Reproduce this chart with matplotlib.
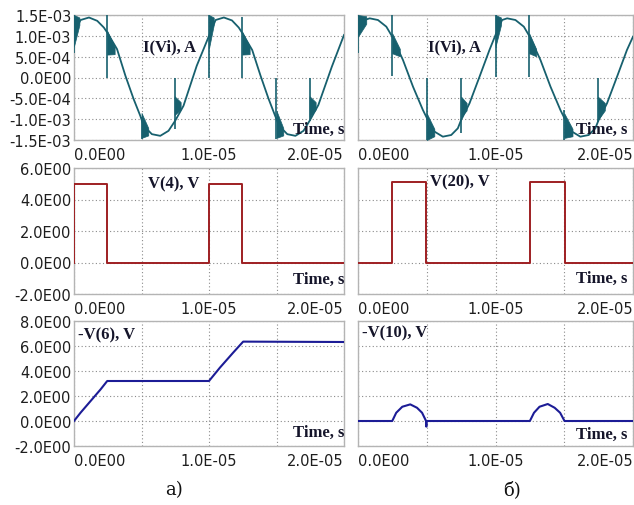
import numpy as np
import matplotlib
matplotlib.use('Agg')
from matplotlib import pyplot as plt

# time in microseconds, current in mA, voltage in V
# --- a) left column ---
t_i_left = [0.0, 0.49, 1.11, 1.72, 2.21, 2.46, 3.19, 3.81, 4.42, 4.91, 5.16, 5.77, 6.39, 7.0, 7.49,
            8.11, 9.09, 10.0, 10.49, 11.1, 11.7, 12.2, 12.46, 13.2, 13.8, 14.4, 14.9, 15.2, 15.8,
            16.4, 17.0, 17.45, 18.1, 19.1, 20.0]
i_left = [1.08, 1.38, 1.44, 1.36, 1.20, 1.08, 0.68, 0.04, -0.52, -0.92, -1.16, -1.36, -1.40, -1.28,
          -1.04, -0.68, 0.28, 1.00, 1.38, 1.44, 1.37, 1.20, 1.07, 0.66, 0.06, -0.50, -0.92, -1.16,
          -1.36, -1.40, -1.28, -1.04, -0.66, 0.26, 1.02]
# switching transients: time, spike range, burst start range, burst length, burst end value
ev_t_left = [0.0, 2.46, 5.0, 7.45, 10.0, 12.46, 15.0, 17.45]
spk_lo_left = [0.60, 0.00, -1.48, -1.24, 0.00, 0.00, -1.48, -1.05]
spk_hi_left = [1.50, 1.50, -0.95, 0.00, 1.50, 1.45, 0.00, 0.00]
bst_lo_left = [0.75, 0.55, -1.45, -0.90, 0.70, 0.55, -1.45, -0.95]
bst_hi_left = [1.50, 1.12, -0.85, -0.45, 1.50, 1.10, -0.80, -0.45]
bst_len_left = [0.40, 0.55, 0.50, 0.45, 0.35, 0.55, 0.50, 0.45]
bst_end_left = [1.35, 0.65, -1.30, -0.68, 1.35, 0.65, -1.30, -0.68]

t_v4 = [0.0, 0.0, 2.46, 10.0, 12.46, 20.0]
v4 = [0.0, 5.0, 0.0, 5.0, 0.0, 0.0]

t_v6 = [0.0, 0.49, 1.23, 1.97, 2.46, 10.0, 10.81, 11.79, 12.53, 20.0]
v6 = [0.0, 0.67, 1.60, 2.53, 3.20, 3.20, 4.27, 5.47, 6.35, 6.32]

# --- б) right column ---
t_i_right = [0.0, 0.48, 0.85, 1.45, 2.06, 2.49, 3.27, 4.0, 4.72, 5.08, 5.57, 6.17, 6.78, 7.26, 7.5,
             8.11, 8.84, 9.56, 10.0, 10.48, 10.85, 11.45, 12.06, 12.49, 13.27, 14.0, 14.72, 15.08,
             15.57, 16.17, 16.78, 17.26, 17.5, 18.11, 18.84, 19.56, 20.0]
i_right = [1.02, 1.38, 1.42, 1.38, 1.22, 0.98, 0.42, -0.22, -0.78, -1.02, -1.30, -1.42, -1.38, -1.22,
           -1.02, -0.62, 0.02, 0.66, 1.02, 1.38, 1.42, 1.38, 1.22, 0.98, 0.42, -0.22, -0.78, -1.02,
           -1.30, -1.42, -1.38, -1.22, -1.02, -0.62, 0.02, 0.66, 0.98]
ev_t_right = [0.0, 2.49, 5.0, 7.5, 10.0, 12.45, 15.0, 17.45]
spk_lo_right = [0.58, 0.04, -1.50, -1.34, 0.02, 0.02, -1.50, -1.06]
spk_hi_right = [1.50, 1.50, 0.00, 0.00, 1.50, 1.50, -0.78, 0.00]
bst_lo_right = [0.98, 0.58, -1.50, -0.94, 0.74, 0.58, -1.45, -1.02]
bst_hi_right = [1.50, 1.06, -0.86, -0.46, 1.50, 1.06, -0.86, -0.46]
bst_len_right = [0.60, 0.55, 0.55, 0.40, 0.40, 0.50, 0.60, 0.50]
bst_end_right = [1.38, 0.60, -1.32, -0.70, 1.35, 0.60, -1.32, -0.70]

t_v20 = [0.0, 2.5, 4.98, 12.49, 15.05, 20.0]
v20 = [0.0, 5.1, 0.0, 5.1, 0.0, 0.0]

t_v10 = [0.0, 2.49, 2.78, 3.22, 3.80, 4.29, 4.66, 4.95, 4.97, 4.99, 12.5, 12.8, 13.2, 13.8, 14.3,
         14.7, 15.02, 20.0]
v10 = [0.0, 0.0, 0.66, 1.14, 1.33, 1.06, 0.66, 0.0, -0.45, 0.0, 0.0, 0.66, 1.14, 1.36, 1.06,
       0.66, 0.0, 0.0]

x_ticks = [0, 0.5e-5, 1e-5, 1.5e-5, 2e-5]
x_labels = ['0.0E00', '', '1.0E-05', '', '2.0E-05']
yt_i = [-1.5e-3, -1e-3, -5e-4, 0, 5e-4, 1e-3, 1.5e-3]
yl_i = ['-1.5E-03', '-1.0E-03', '-5.0E-04', '0.0E00', '5.0E-04', '1.0E-03', '1.5E-03']
yt_v4 = [-2, 0, 2, 4, 6]
yl_v4 = ['-2.0E00', '0.0E00', '2.0E00', '4.0E00', '6.0E00']
yt_v6 = [-2, 0, 2, 4, 6, 8]
yl_v6 = ['-2.0E00', '0.0E00', '2.0E00', '4.0E00', '6.0E00', '8.0E00']

TEAL = '#17606e'
RED = '#9e1f22'
NAVY = '#1c1c96'
US = 1e-6
MA = 1e-3
BURST_TAIL = 0.09  # half-width (mA) left at the end of a burst


def style(ax, yticks, ylabels, show_y):
    ax.set_xlim(0, 2e-5)
    ax.set_ylim(yticks[0], yticks[-1])
    ax.set_xticks(x_ticks)
    ax.set_xticklabels(x_labels)
    labs = ax.get_xticklabels()
    labs[0].set_ha('left')
    labs[-1].set_ha('right')
    ax.set_yticks(yticks)
    if show_y:
        ax.set_yticklabels(ylabels)
    else:
        ax.set_yticklabels([])
    ax.tick_params(length=0, labelsize=10.5, colors='#1e1e1e', pad=5)
    ax.tick_params(axis='y', pad=2)
    ax.grid(True, color='#8a8a8a', linestyle=(0, (1, 2.2)), linewidth=0.8)
    for s in ax.spines.values():
        s.set_color('#b4b4b4')
        s.set_linewidth(1.0)


def current_panel(ax, t, i, ev, lo, hi, blo, bhi, blen, bend):
    ax.plot(np.array(t) * US, np.array(i) * MA, color=TEAL, lw=1.3, zorder=3)
    ax.vlines(np.array(ev) * US, np.array(lo) * MA, np.array(hi) * MA, color=TEAL, lw=1.2, zorder=3)
    for k in range(len(ev)):
        ax.fill_between([ev[k] * US, (ev[k] + blen[k]) * US],
                        [blo[k] * MA, (bend[k] - BURST_TAIL) * MA],
                        [bhi[k] * MA, (bend[k] + BURST_TAIL) * MA],
                        color=TEAL, lw=0.5, zorder=3)


def label(ax, x, y, s, ha='left'):
    ax.text(x, y, s, transform=ax.transAxes, ha=ha, va='center', fontsize=12,
            fontweight='bold', family='Liberation Serif', color='#15152a', zorder=5)


fig = plt.figure(figsize=(6.34, 5.06), dpi=100)
plt.rcParams['font.family'] = ['DejaVu Sans']

lx, lw_ = 74 / 634, 270 / 634
rx, rw = 358 / 634, 275 / 634
rows = [(1 - 141 / 506, 125 / 506), (1 - 295 / 506, 126 / 506), (1 - 447 / 506, 125 / 506)]

# top row: current
ax = fig.add_axes([lx, rows[0][0], lw_, rows[0][1]])
current_panel(ax, t_i_left, i_left, ev_t_left, spk_lo_left, spk_hi_left, bst_lo_left,
              bst_hi_left, bst_len_left, bst_end_left)
style(ax, yt_i, yl_i, True)
label(ax, 0.255, 0.75, 'I(Vi), A')
label(ax, 1.0, 0.09, 'Time, s', ha='right')

ax = fig.add_axes([rx, rows[0][0], rw, rows[0][1]])
current_panel(ax, t_i_right, i_right, ev_t_right, spk_lo_right, spk_hi_right, bst_lo_right,
              bst_hi_right, bst_len_right, bst_end_right)
style(ax, yt_i, yl_i, False)
label(ax, 0.255, 0.75, 'I(Vi), A')
label(ax, 0.98, 0.09, 'Time, s', ha='right')

# middle row: control voltages
ax = fig.add_axes([lx, rows[1][0], lw_, rows[1][1]])
ax.step(np.array(t_v4) * US, v4, where='post', color=RED, lw=1.4, zorder=3)
style(ax, yt_v4, yl_v4, True)
label(ax, 0.274, 0.875, 'V(4), V')
label(ax, 1.0, 0.12, 'Time, s', ha='right')

ax = fig.add_axes([rx, rows[1][0], rw, rows[1][1]])
ax.step(np.array(t_v20) * US, v20, where='post', color=RED, lw=1.4, zorder=3)
style(ax, yt_v4, yl_v4, False)
label(ax, 0.262, 0.89, 'V(20), V')
label(ax, 0.98, 0.125, 'Time, s', ha='right')

# bottom row: output voltages
ax = fig.add_axes([lx, rows[2][0], lw_, rows[2][1]])
ax.plot(np.array(t_v6) * US, v6, color=NAVY, lw=1.5, zorder=3)
style(ax, yt_v6, yl_v6, True)
label(ax, 0.015, 0.895, '-V(6), V')
label(ax, 1.0, 0.11, 'Time, s', ha='right')

ax = fig.add_axes([rx, rows[2][0], rw, rows[2][1]])
ax.plot(np.array(t_v10) * US, v10, color=NAVY, lw=1.5, zorder=3)
style(ax, yt_v6, yl_v6, False)
label(ax, 0.015, 0.905, '-V(10), V')
label(ax, 0.98, 0.10, 'Time, s', ha='right')

fig.text(174 / 634, 1 - 490 / 506, 'а)', ha='center', va='center', fontsize=13,
         family='DejaVu Serif', color='#111111')
fig.text(512 / 634, 1 - 490 / 506, 'б)', ha='center', va='center', fontsize=13,
         family='DejaVu Serif', color='#111111')

fig.savefig('out.png', dpi=100)
